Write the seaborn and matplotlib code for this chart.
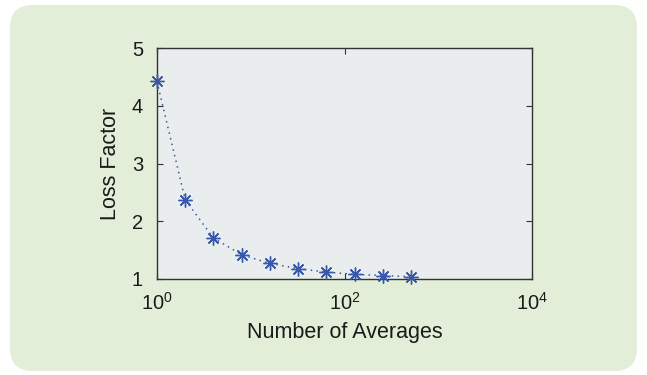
import matplotlib
matplotlib.use("Agg")
import matplotlib.pyplot as plt
import seaborn as sns
import pandas as pd
from matplotlib.patches import FancyBboxPatch
from matplotlib.ticker import FixedLocator, NullLocator

averages = [1, 2, 4, 8, 16, 32, 64, 128, 256, 512]
loss_factor = [4.42, 2.37, 1.71, 1.42, 1.27, 1.18, 1.12, 1.08, 1.06, 1.04]
x_ticks = [1, 100, 10000]
x_tick_labels = [r"$10^0$", r"$10^2$", r"$10^4$"]
y_ticks = [1, 2, 3, 4, 5]

sns.set_style("ticks")
plt.rcParams["font.family"] = ["Liberation Sans", "DejaVu Sans"]
plt.rcParams["mathtext.fontset"] = "custom"
plt.rcParams["mathtext.rm"] = "Liberation Sans"
plt.rcParams["mathtext.it"] = "Liberation Sans"

fig = plt.figure(figsize=(6.47, 3.75), dpi=100)
fig.patch.set_facecolor("white")
bg = FancyBboxPatch((10 / 647, 4 / 375), 627 / 647, 366 / 375,
                    boxstyle="round,pad=0,rounding_size=0.035",
                    transform=fig.transFigure, facecolor="#e3eed8",
                    edgecolor="none", zorder=-10, mutation_aspect=647 / 375)
fig.add_artist(bg)

ax = fig.add_axes([157 / 647, 1 - 279 / 375, 375 / 647, 231 / 375])
ax.set_zorder(1)
ax.set_facecolor("#e9edee")

df = pd.DataFrame({"Number of Averages": averages, "Loss Factor": loss_factor})
sns.lineplot(data=df, x="Number of Averages", y="Loss Factor", ax=ax,
             color="#3a58a8", linewidth=1.1, dashes=False,
             marker=(8, 2, 0), markersize=10, markeredgewidth=1.0,
             markeredgecolor="#3a58a8", clip_on=False, zorder=3)
for ln in ax.get_lines():
    ln.set_dashes((1, 2.8))

ax.set_xscale("log")
ax.set_xlim(1, 10000)
ax.set_ylim(1, 5)
ax.xaxis.set_major_locator(FixedLocator(x_ticks))
ax.xaxis.set_minor_locator(NullLocator())
ax.set_xticklabels(x_tick_labels)
ax.set_yticks(y_ticks)
ax.set_yticklabels([str(v) for v in y_ticks])

for s in ax.spines.values():
    s.set_visible(True)
    s.set_color("#333333")
    s.set_linewidth(1.0)

ax.tick_params(axis="both", which="both", direction="in", length=4,
               width=0.8, color="#333333", top=True, right=True,
               labelsize=14.5, labelcolor="#1a1a1a")
ax.tick_params(axis="x", pad=9)
ax.tick_params(axis="y", pad=10)
ax.set_xlabel("Number of Averages", fontsize=15.5, color="#1a1a1a", labelpad=6)
ax.set_ylabel("Loss Factor", fontsize=15.5, color="#1a1a1a", labelpad=8)

fig.savefig("out.png", dpi=100, facecolor="white")
